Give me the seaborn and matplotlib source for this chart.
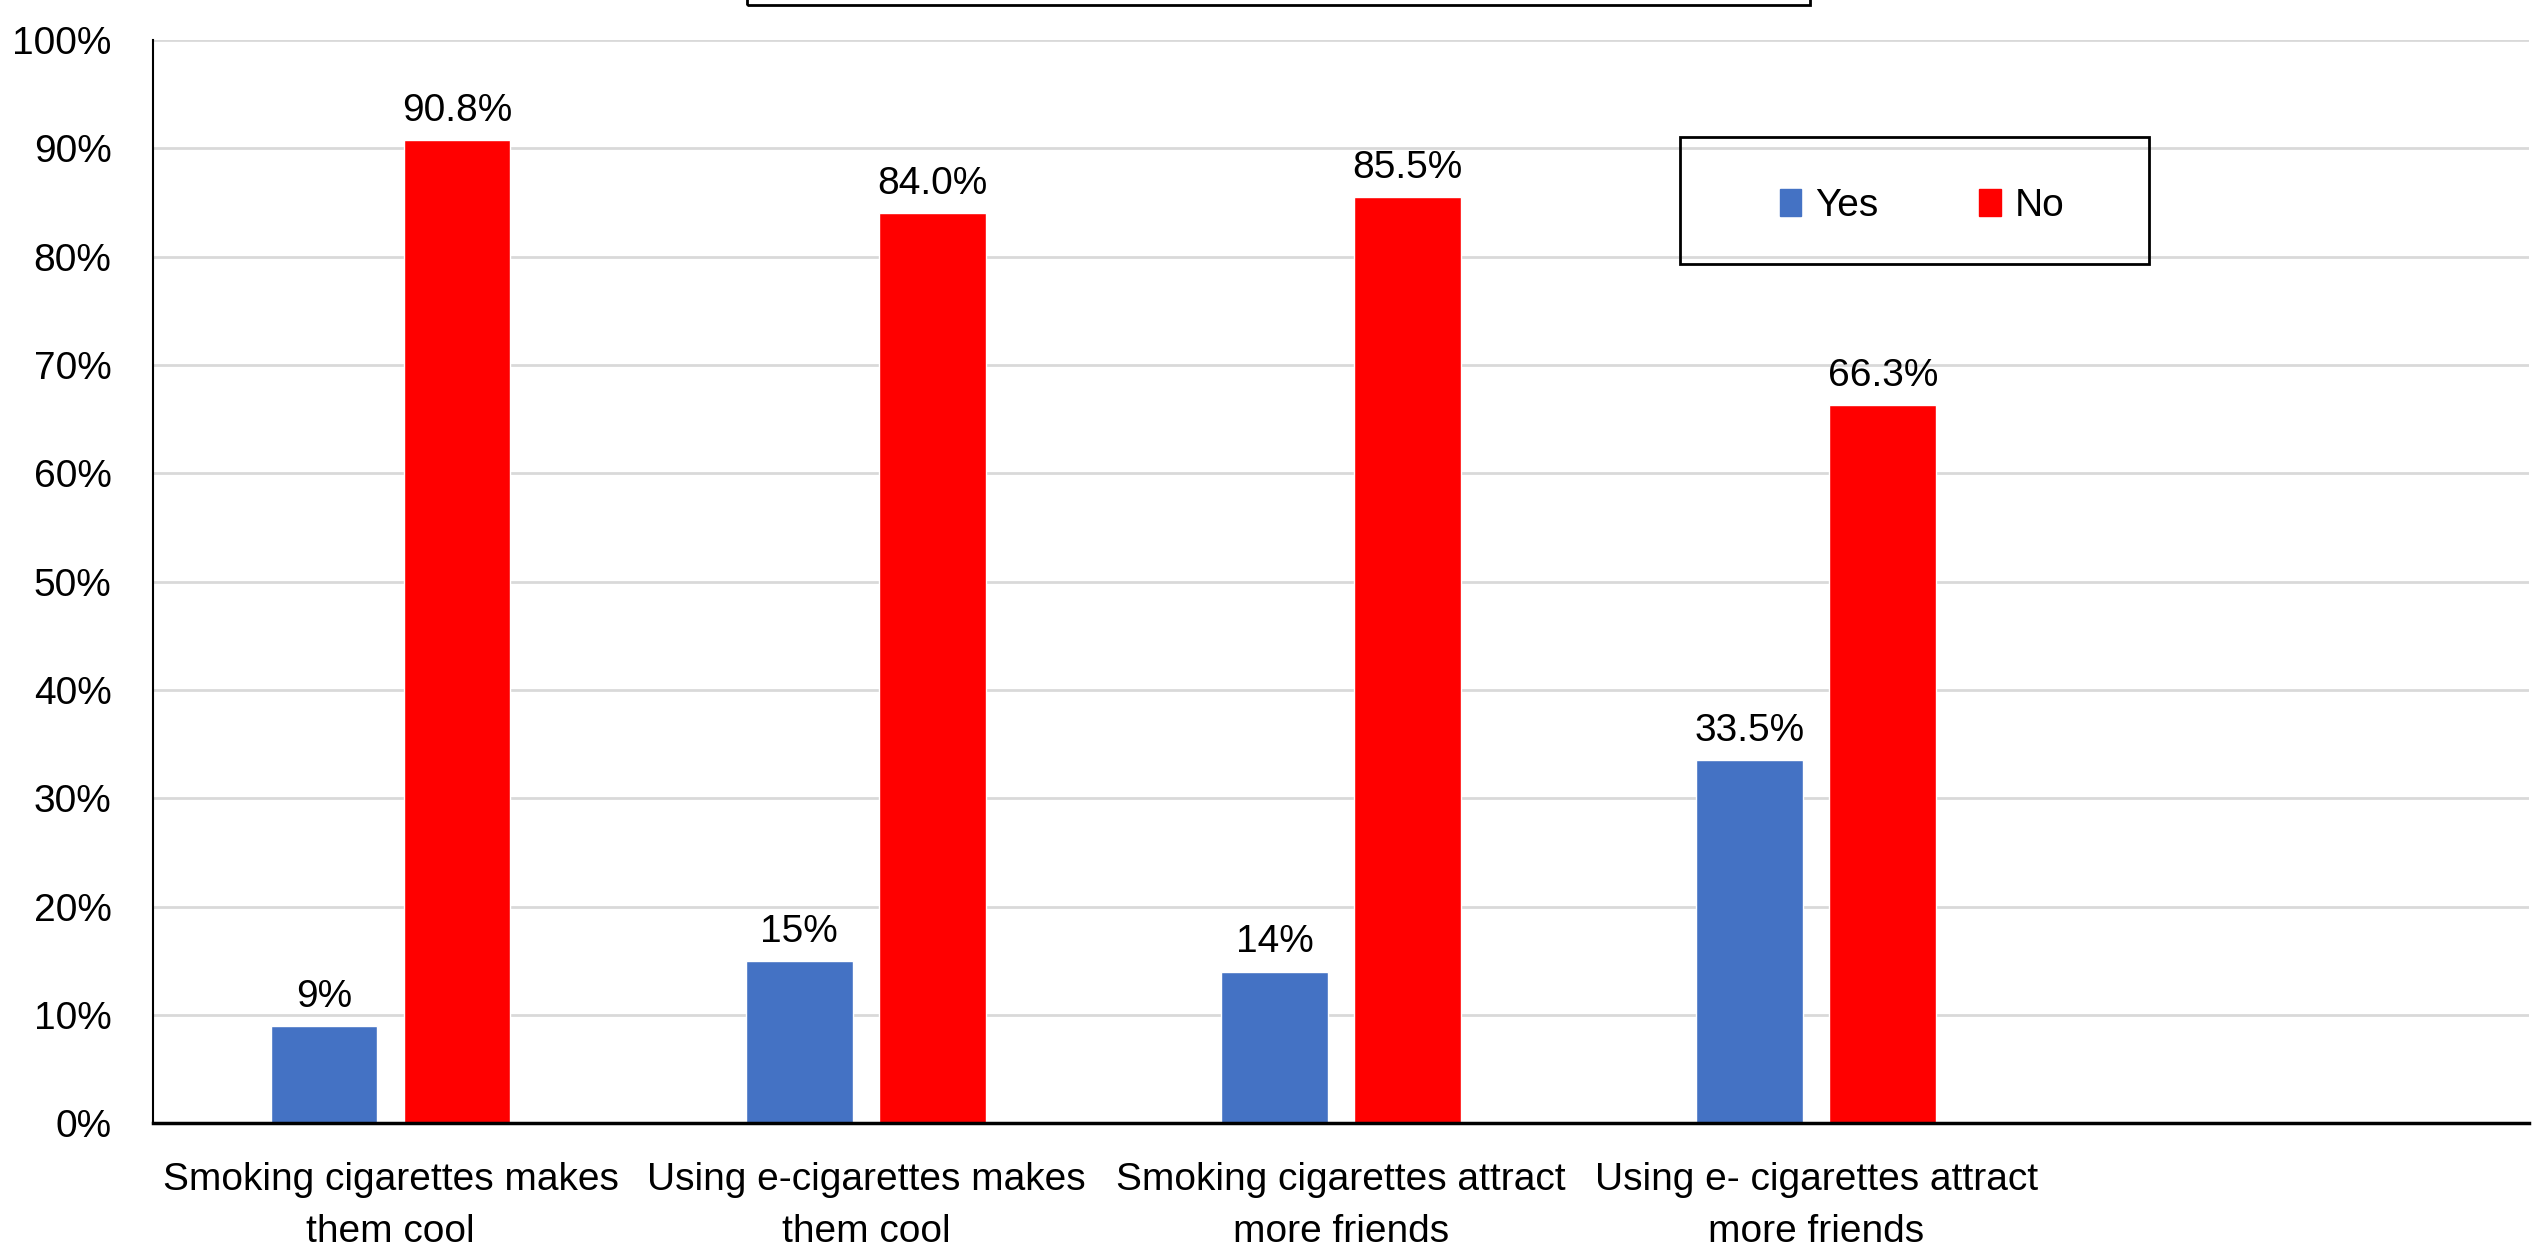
import pandas as pd
import matplotlib
matplotlib.use("Agg")
import matplotlib.pyplot as plt
from matplotlib.patches import Rectangle
from matplotlib.ticker import FuncFormatter
import seaborn as sns

# data
categories = ["Smoking cigarettes makes\nthem cool",
              "Using e-cigarettes makes\nthem cool",
              "Smoking cigarettes attract\nmore friends",
              "Using e- cigarettes attract\nmore friends"]
yes_vals = [9, 15, 14, 33.5]
no_vals = [90.8, 84.0, 85.5, 66.3]
yes_labels = ["9%", "15%", "14%", "33.5%"]
no_labels = ["90.8%", "84.0%", "85.5%", "66.3%"]
answers = ["Yes", "No"]
colors = {"Yes": "#4472C4", "No": "#FF0000"}

df = pd.DataFrame({
    "question": categories * 2,
    "answer": ["Yes"] * 4 + ["No"] * 4,
    "pct": yes_vals + no_vals,
})

sns.set_style("white")
plt.rcParams["font.family"] = ["Liberation Sans", "DejaVu Sans"]
plt.rcParams["text.color"] = "black"
plt.rcParams["xtick.color"] = "black"
plt.rcParams["ytick.color"] = "black"
fs = 28

fig = plt.figure(figsize=(25.34, 12.55), dpi=100)
ax = fig.add_axes([0.0604, 0.105, 0.9376, 0.863])

sns.barplot(data=df, x="question", y="pct", hue="answer", hue_order=answers,
            palette=colors, width=0.56, gap=0.2, saturation=1, ax=ax, legend=False)

for cont, labs in zip(ax.containers, [yes_labels, no_labels]):
    ax.bar_label(cont, labels=labs, padding=8, fontsize=fs, color="black")

ax.set_xlim(-0.5, 4.5)
ax.set_ylim(0, 100)
ax.set_yticks(range(0, 101, 10))
ax.yaxis.set_major_formatter(FuncFormatter(lambda v, p: "%d%%" % v))
ax.grid(axis="y", color="#d9d9d9", linewidth=2)
ax.set_axisbelow(True)
ax.set_xlabel("")
ax.set_ylabel("")
ax.tick_params(axis="y", length=0, pad=30, labelsize=fs, labelcolor="black")
ax.tick_params(axis="x", length=0, pad=28, labelsize=fs, labelcolor="black")
for t in ax.get_xticklabels():
    t.set_linespacing(1.55)
for s in ["top", "right"]:
    ax.spines[s].set_visible(False)
ax.spines["left"].set_color("black")
ax.spines["left"].set_linewidth(1.5)
ax.spines["bottom"].set_color("black")
ax.spines["bottom"].set_linewidth(2.5)

# legend box
fig.patches.append(Rectangle((0.663, 0.790), 0.185, 0.101, transform=fig.transFigure,
                             fill=False, edgecolor="black", linewidth=2))
handles = [Rectangle((0, 0), 1, 1, color=colors[a]) for a in answers]
leg = fig.legend(handles, answers, loc="center", bbox_to_anchor=(0.7585, 0.8355),
                 ncol=2, frameon=False, fontsize=fs, handlelength=0.55, handleheight=0.7,
                 handletextpad=0.35, columnspacing=2.6)
for t in leg.get_texts():
    t.set_color("black")

# cropped title box at top
fig.patches.append(Rectangle((0.2948, 0.996), 0.4195, 0.1, transform=fig.transFigure,
                             fill=False, edgecolor="black", linewidth=2, clip_on=False))

fig.savefig("out.png", dpi=100)
